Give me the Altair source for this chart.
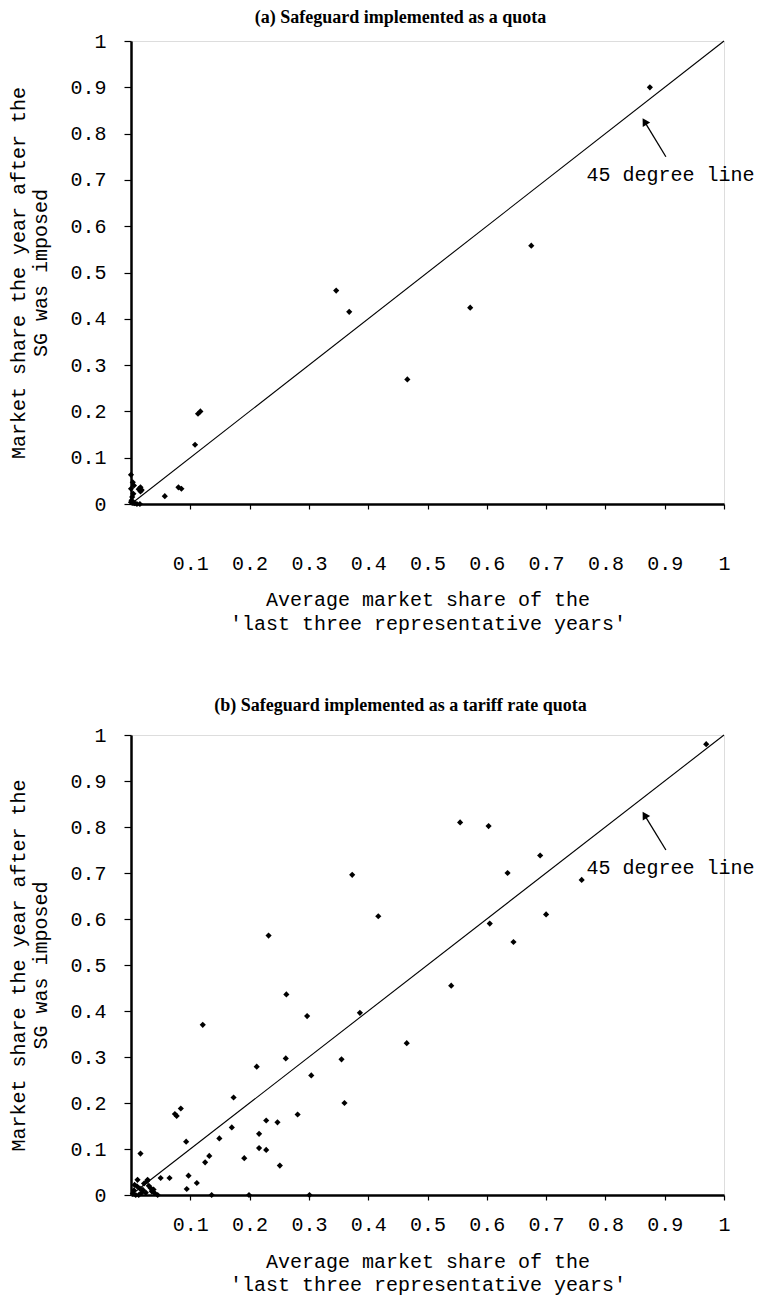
import altair as alt
import pandas as pd

# ---------------- data ----------------
# (a) Safeguard implemented as a quota
xa = [0.875, 0.675, 0.572, 0.346, 0.368, 0.466, 0.117, 0.113, 0.108, 0.080, 0.085,
      0.057, 0.016, 0.016, 0.000, 0.003, 0.000, 0.005, 0.002, 0.000, 0.010, 0.015,
      0.004, 0.001, 0.006, 0.013, 0.018]
ya = [0.900, 0.558, 0.424, 0.461, 0.415, 0.269, 0.200, 0.195, 0.128, 0.036, 0.033,
      0.017, 0.036, 0.027, 0.063, 0.047, 0.033, 0.040, 0.015, 0.004, 0.000, 0.000,
      0.022, 0.008, 0.002, 0.032, 0.030]

# (b) Safeguard implemented as a tariff rate quota
xb = [0.970, 0.555, 0.603, 0.690, 0.635, 0.373, 0.760, 0.700, 0.417, 0.605, 0.232,
      0.645, 0.540, 0.262, 0.386, 0.297, 0.121, 0.465, 0.261, 0.355, 0.212, 0.304,
      0.173, 0.360, 0.084, 0.074, 0.077, 0.281, 0.228, 0.247, 0.170, 0.216, 0.149,
      0.093, 0.216, 0.228, 0.132, 0.191, 0.125, 0.251, 0.097, 0.111, 0.094, 0.136,
      0.199, 0.301, 0.011, 0.028, 0.050, 0.065, 0.033, 0.016, 0.005, 0.010, 0.020,
      0.025, 0.030, 0.035, 0.040, 0.045, 0.008, 0.018, 0.022, 0.003, 0.013, 0.038,
      0.027, 0.006, 0.015]
yb = [0.980, 0.810, 0.802, 0.738, 0.700, 0.696, 0.685, 0.610, 0.606, 0.590, 0.564,
      0.550, 0.455, 0.436, 0.396, 0.389, 0.370, 0.330, 0.297, 0.295, 0.279, 0.260,
      0.212, 0.200, 0.188, 0.176, 0.172, 0.175, 0.162, 0.158, 0.147, 0.133, 0.123,
      0.116, 0.102, 0.098, 0.085, 0.080, 0.071, 0.064, 0.042, 0.026, 0.013, 0.000,
      0.000, 0.000, 0.033, 0.033, 0.037, 0.037, 0.015, 0.090, 0.010, 0.019, 0.011,
      0.005, 0.020, 0.008, 0.004, 0.000, 0.000, 0.005, 0.025, 0.003, 0.000, 0.012,
      0.030, 0.022, 0.014]

line_x = [0, 1]
line_y = [0, 1]
x_ticks = [0.1, 0.2, 0.3, 0.4, 0.5, 0.6, 0.7, 0.8, 0.9, 1.0]
y_ticks = [0, 0.1, 0.2, 0.3, 0.4, 0.5, 0.6, 0.7, 0.8, 0.9, 1.0]

note_text = "45 degree line"
note_x = [0.768]
note_y = [0.711]
arrow_tail_x = [0.902]
arrow_tail_y = [0.750]
arrow_tip_x = [0.866]
arrow_tip_y = [0.826]

titles = ["(a) Safeguard implemented as a quota",
          "(b) Safeguard implemented as a tariff rate quota"]
x_title = ["Average market share of the", "'last three representative years'"]
y_title = ["Market share the year after the", "SG was imposed"]

MONO = "Liberation Mono"
SERIF = "Liberation Serif"


def panel(xs, ys, title, height, label_pad, title_pad, title_lh, title_offset):
    pts = pd.DataFrame({"x": xs, "y": ys})
    diag = pd.DataFrame({"x": line_x, "y": line_y})
    arrow = pd.DataFrame({"x": arrow_tail_x, "y": arrow_tail_y,
                          "x2": arrow_tip_x, "y2": arrow_tip_y})
    head = pd.DataFrame({"x": arrow_tip_x, "y": arrow_tip_y})
    note = pd.DataFrame({"x": note_x, "y": note_y, "t": [note_text]})

    xs_ = alt.Scale(domain=[0, 1], nice=False, zero=True)
    ys_ = alt.Scale(domain=[0, 1], nice=False, zero=True)
    xax = alt.Axis(values=x_ticks, format="~g", title=x_title, grid=False,
                   domainColor="black", domainWidth=2.5, tickColor="black",
                   tickSize=5, tickWidth=1.2, labelPadding=label_pad,
                   titlePadding=title_pad,
                   labelFont=MONO, labelFontSize=20, labelColor="black",
                   titleFont=MONO, titleFontSize=20, titleFontWeight="normal",
                   titleColor="black", titleLineHeight=title_lh, labelFlush=False)
    yax = alt.Axis(values=y_ticks, format="~g", title=y_title, grid=False,
                   domainColor="black", domainWidth=2.5, tickColor="black",
                   tickSize=7, tickWidth=1.2, labelPadding=18, titlePadding=19,
                   labelFont=MONO, labelFontSize=20, labelColor="black",
                   titleFont=MONO, titleFontSize=20, titleFontWeight="normal",
                   titleColor="black", titleLineHeight=22, labelFlush=False)

    base_x = alt.X("x:Q", scale=xs_, axis=xax)
    base_y = alt.Y("y:Q", scale=ys_, axis=yax)

    line = alt.Chart(diag).mark_line(color="black", strokeWidth=1.1).encode(
        x=base_x, y=base_y)
    points = alt.Chart(pts).mark_point(shape="diamond", filled=True, color="black",
                                       size=38, opacity=1).encode(
        x="x:Q", y="y:Q")
    arr = alt.Chart(arrow).mark_rule(color="black", strokeWidth=1.3).encode(
        x="x:Q", y="y:Q", x2="x2:Q", y2="y2:Q")
    tip = alt.Chart(head).mark_point(shape="triangle-up", filled=True, color="black",
                                     size=75, angle=329, opacity=1).encode(
        x="x:Q", y="y:Q")
    txt = alt.Chart(note).mark_text(font=MONO, fontSize=20, align="left",
                                    baseline="middle", color="black").encode(
        x="x:Q", y="y:Q", text="t:N")
    return alt.layer(line, points, arr, tip, txt).properties(
        width=593, height=height,
        title=alt.TitleParams(title, font=SERIF, fontSize=18, fontWeight="bold",
                              color="black", anchor="middle", frame="group",
                              dx=-27, offset=title_offset))


top = panel(xa, ya, titles[0], 463, 44, 16, 24, 4)
bottom = panel(xb, yb, titles[1], 460, 14, 17, 23, 10)

chart = alt.vconcat(top, bottom, spacing=62).properties(
    padding={"left": 0, "top": 0, "right": 5, "bottom": 0}
).configure_view(stroke=None).configure(background="white")

chart.save("out.html", embed_options={"renderer": "svg", "actions": False})
